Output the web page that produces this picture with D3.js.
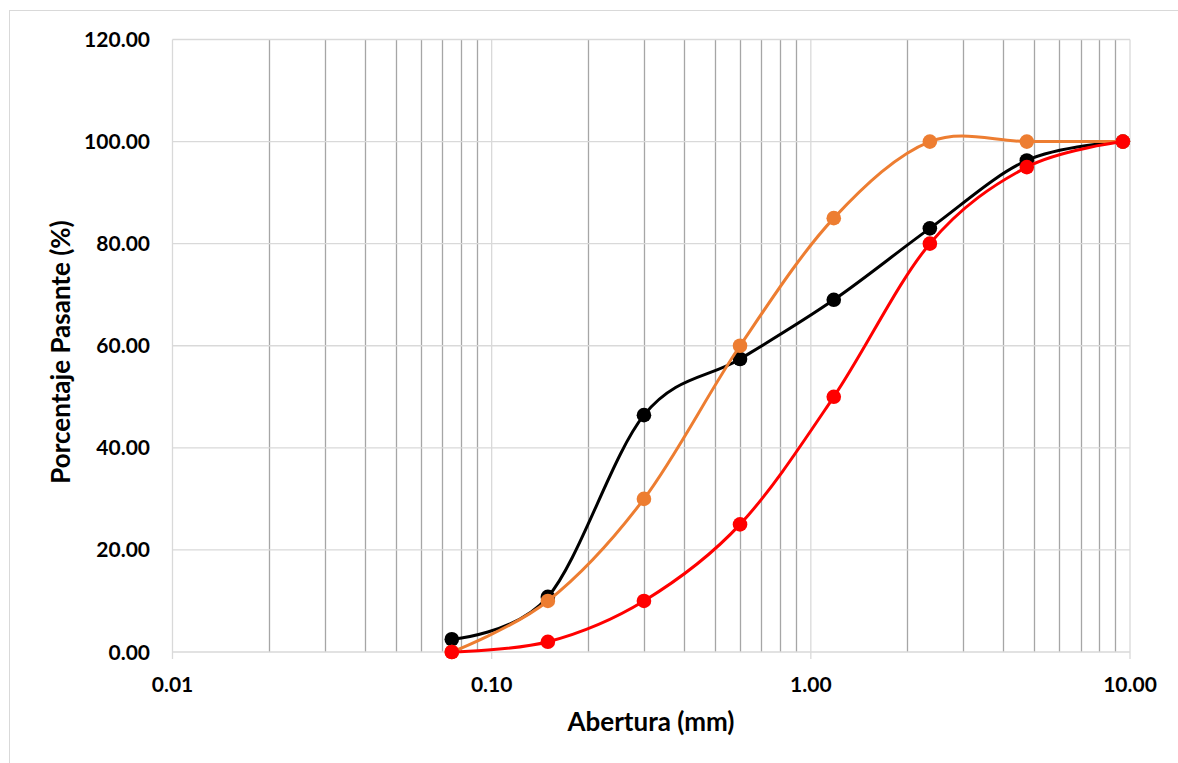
<!DOCTYPE html>
<html>
<head>
<meta charset="utf-8">
<script src="https://cdn.jsdelivr.net/npm/d3@7"></script>
<style>
  body { margin: 0; background: #fff; }
  text { font-family: Lato, "Open Sans", sans-serif; font-weight: bold; fill: #000; }
</style>
</head>
<body>
<div id="main-container"></div>
<script>
// sieve openings (mm)
const aberturas = [0.075, 0.15, 0.3, 0.6, 1.18, 2.36, 4.75, 9.5];
// % passing
const serieNegra = [2.5, 10.8, 46.4, 57.4, 69.0, 83.0, 96.3, 100];
const serieNaranja = [0, 10, 30, 60, 85, 100, 100, 100];
const serieRoja = [0, 2, 10, 25, 50, 80, 95, 100];
const yTicks = [0, 20, 40, 60, 80, 100, 120];
const xTicks = [0.01, 0.1, 1, 10];

const width = 1178, height = 763;
const plotLeft = 172.5, plotRight = 1130, plotTop = 39.5, plotBottom = 652;

const svg = d3.select("#main-container")
              .append("svg")
              .attr("width", width)
              .attr("height", height);

// chart border (right and bottom edges fall outside the picture)
svg.append("rect")
   .attr("x", 9.5).attr("y", 10.5)
   .attr("width", 1200).attr("height", 800)
   .attr("fill", "none")
   .attr("stroke", "#d9d9d9");

const x = d3.scaleLog().domain([0.01, 10]).range([plotLeft, plotRight]);
const y = d3.scaleLinear().domain([0, 120]).range([plotBottom, plotTop]);

// minor vertical gridlines (2..9 of each decade)
const minor = [];
for (const dec of [0.01, 0.1, 1]) {
  for (let k = 2; k <= 9; k++) minor.push(dec * k);
}
svg.append("g").selectAll("line").data(minor).enter().append("line")
   .attr("x1", d => Math.round(x(d)) + 0.5).attr("x2", d => Math.round(x(d)) + 0.5)
   .attr("y1", plotTop).attr("y2", plotBottom)
   .attr("stroke", "#a6a6a6").attr("stroke-width", 1.3);

// horizontal gridlines
svg.append("g").selectAll("line").data(yTicks).enter().append("line")
   .attr("x1", plotLeft).attr("x2", plotRight)
   .attr("y1", d => y(d)).attr("y2", d => y(d))
   .attr("stroke", "#d9d9d9").attr("stroke-width", 1.3);

// major vertical gridlines + ticks below axis
svg.append("g").selectAll("line").data(xTicks).enter().append("line")
   .attr("x1", d => x(d)).attr("x2", d => x(d))
   .attr("y1", plotTop).attr("y2", plotBottom + 7)
   .attr("stroke", "#d9d9d9").attr("stroke-width", 1.3);

// y tick labels
svg.append("g").selectAll("text").data(yTicks).enter().append("text")
   .attr("x", 150).attr("y", d => y(d))
   .attr("dy", "0.36em")
   .attr("text-anchor", "end")
   .style("font-size", "21px")
   .text(d => d.toFixed(2));

// x tick labels
svg.append("g").selectAll("text").data(xTicks).enter().append("text")
   .attr("x", d => x(d)).attr("y", 684)
   .attr("dy", "0.36em")
   .attr("text-anchor", "middle")
   .style("font-size", "21px")
   .text(d => d.toFixed(2));

// axis titles
svg.append("text")
   .attr("x", 651).attr("y", 722)
   .attr("dy", "0.36em")
   .attr("text-anchor", "middle")
   .style("font-size", "26px")
   .text("Abertura (mm)");

svg.append("text")
   .attr("transform", "translate(61, 352) rotate(-90)")
   .attr("dy", "0.36em")
   .attr("text-anchor", "middle")
   .style("font-size", "26px")
   .text("Porcentaje Pasante (%)");

const series = [
  {values: serieNegra, color: "#000000"},
  {values: serieNaranja, color: "#ED7D31"},
  {values: serieRoja, color: "#FF0000"}
];

const line = d3.line()
               .x(d => x(d[0]))
               .y(d => y(d[1]))
               .curve(d3.curveCardinal.tension(0));

for (const s of series) {
  const pts = aberturas.map((a, i) => [a, s.values[i]]);
  const g = svg.append("g");
  g.append("path")
   .attr("d", line(pts))
   .attr("fill", "none")
   .attr("stroke", s.color)
   .attr("stroke-width", 3);
  g.selectAll("circle").data(pts).enter().append("circle")
   .attr("cx", d => x(d[0]))
   .attr("cy", d => y(d[1]))
   .attr("r", 7.3)
   .attr("fill", s.color);
}
</script>
</body>
</html>
